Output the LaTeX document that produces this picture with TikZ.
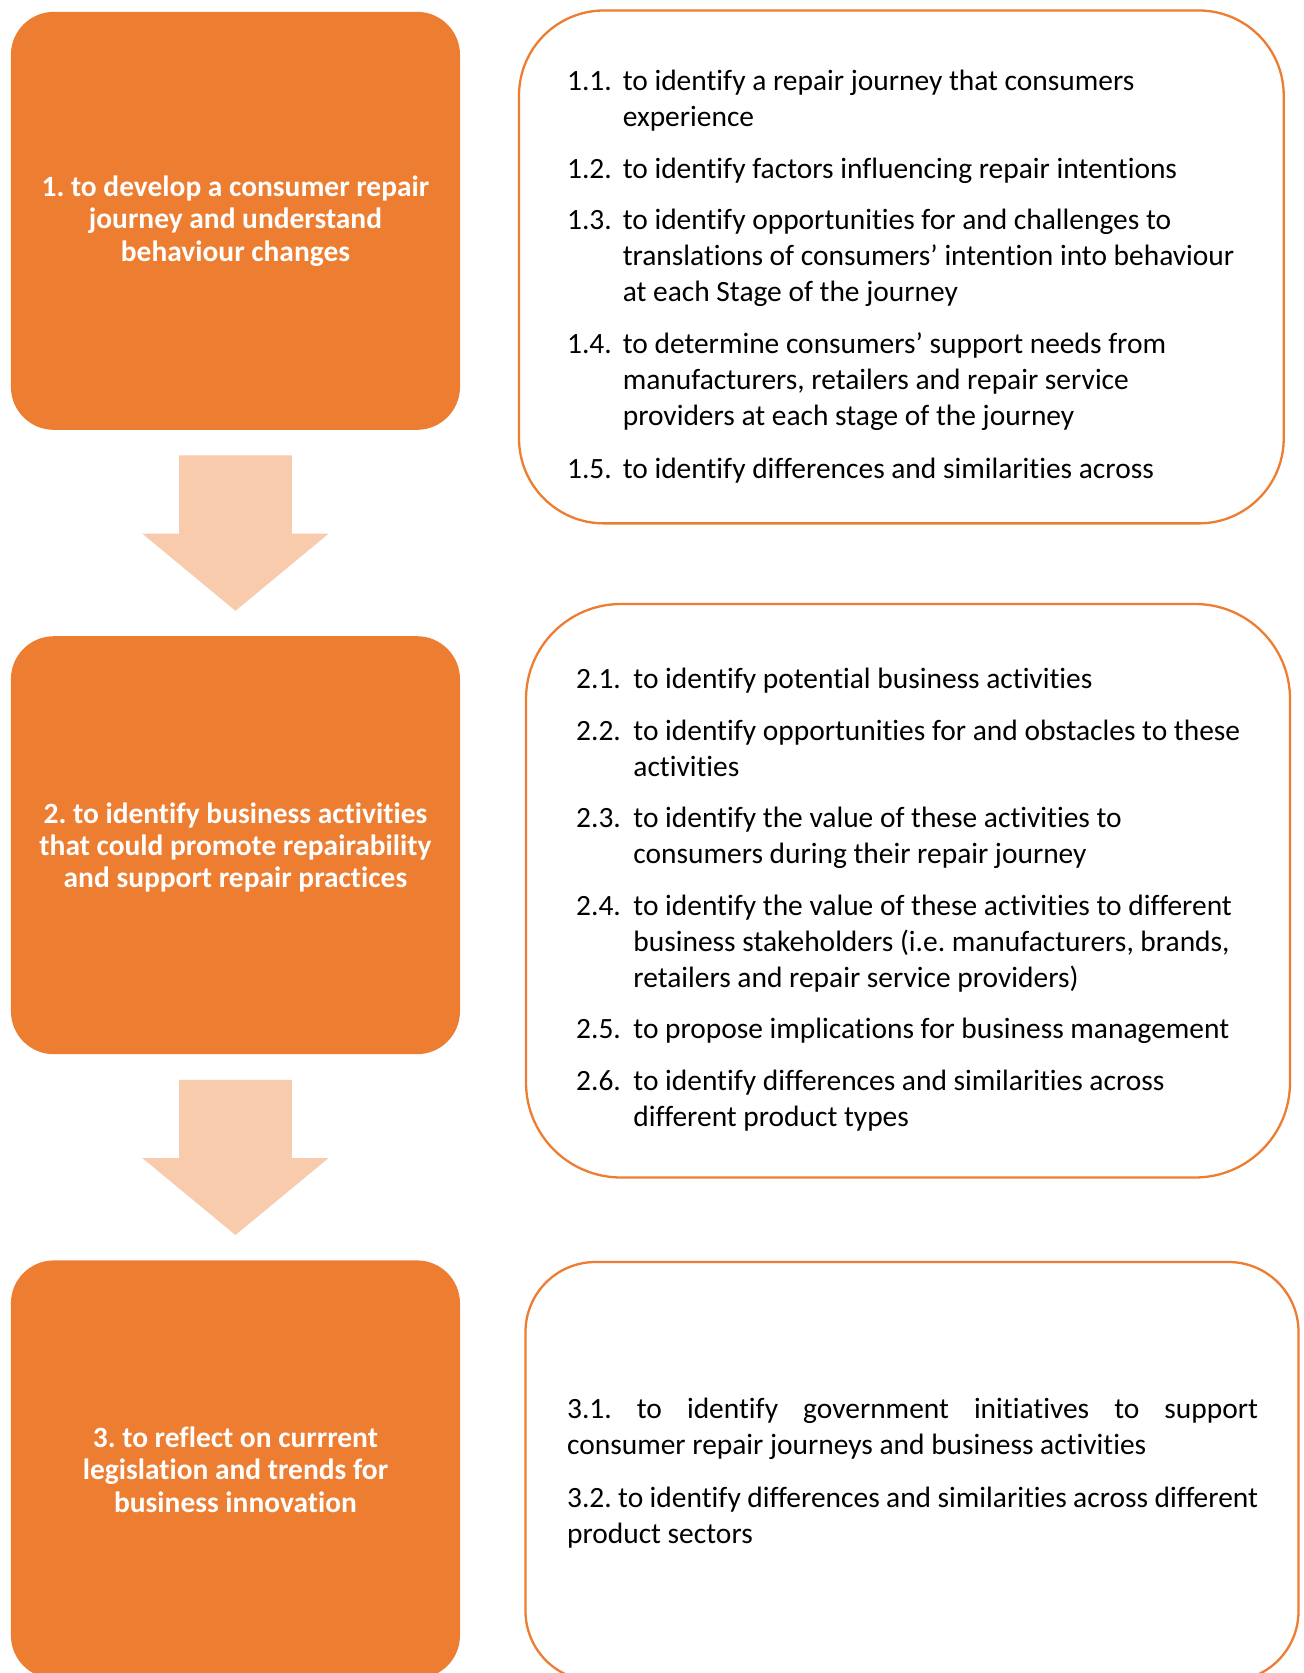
\documentclass[tikz,border=0pt]{standalone}
\usepackage{fontspec}
\setmainfont{Carlito}[Ligatures={TeX,NoCommon}]
\usetikzlibrary{calc}
\frenchspacing
\definecolor{accent}{HTML}{ED7D31}
\definecolor{peach}{HTML}{F8CBAD}
% lines of one objective, the first line's baseline being the node's baseline
\newcommand\itemlines[1]{\begin{tabular}[t]{@{}l@{}}#1\end{tabular}}
\tikzset{
  aimbox/.style={rectangle, rounded corners=21.5pt, fill=accent, inner sep=0pt,
    minimum width=224.55pt, minimum height=209pt, text=white, align=center,
    font=\fontsize{14.72}{16.2}\selectfont\bfseries},
  listbox/.style={rectangle, draw=accent, line width=1.15pt, fill=white, inner sep=0pt},
  itemno/.style={anchor=base west, inner sep=0pt, font=\fontsize{14.72}{17.9}\selectfont},
  itemtext/.style={anchor=base west, inner sep=0pt, font=\fontsize{14.72}{17.9}\selectfont},
  flowarrow/.style={fill=peach, draw=none},
}
\begin{document}
\begin{tikzpicture}[x=0.5pt, y=-0.5pt]
\useasboundingbox (0,0) rectangle (1304,1673);
\fill[white] (0,0) rectangle (1304,1673);
\clip (0,0) rectangle (1304,1673);

% aims (left column)
\node[aimbox] (b1) at (235.45,220.85) {1. to develop a consumer repair\\ journey and understand\\ behaviour changes};
\node[aimbox, text depth=0pt] (b2) at (235.45,845.2) {2. to identify business activities\\ that could promote repairability\\ and support repair practices};
\node[aimbox] (b3) at (235.45,1469.4) {3. to reflect on currrent\\ legislation and trends for\\ business innovation};

% objectives (right column)
\node[listbox, rounded corners=42.5pt, minimum width=382.35pt, minimum height=256.45pt] (r1) at (901.35,266.95) {};
\node[listbox, rounded corners=47.5pt, minimum width=382pt, minimum height=286.75pt] (r2) at (908,890.75) {};
\node[listbox, rounded corners=35pt, minimum width=386.5pt, minimum height=209.5pt] (r3) at (912,1471.5) {};

% block arrows between the aims
\foreach \a/\b in {b1/b2, b2/b3}{
  \fill[flowarrow] ($(\a.south)+(-56.3,25.2)$) -- ($(\a.south)+(-56.3,103.5)$)
    -- ($(\a.south)+(-93,103.5)$) -- ($(\b.north)+(0,-25)$)
    -- ($(\a.south)+(93,103.5)$) -- ($(\a.south)+(56.3,103.5)$)
    -- ($(\a.south)+(56.3,25.2)$) -- cycle;
}

% objectives of aim 1
\node[itemno] (n11) at (566.7,90.8) {1.1.};
\node[itemtext] (t11) at (622.4,90.8) {\itemlines{to identify a repair journey that consumers\\ experience}};
\node[itemno] (n12) at (566.7,178.1) {1.2.};
\node[itemtext] (t12) at (622.4,178.1) {\itemlines{to identify factors influencing repair intentions}};
\node[itemno] (n13) at (566.7,229.8) {1.3.};
\node[itemtext] (t13) at (622.4,229.8) {\itemlines{to identify opportunities for and challenges to\\ translations of consumers’ intention into behaviour\\ at each Stage of the journey}};
\node[itemno] (n14) at (566.7,353.9) {1.4.};
\node[itemtext] (t14) at (622.4,353.9) {\itemlines{to determine consumers’ support needs from\\ manufacturers, retailers and repair service\\ providers at each stage of the journey}};
\node[itemno] (n15) at (566.7,478.1) {1.5.};
\node[itemtext] (t15) at (622.4,478.1) {\itemlines{to identify differences and similarities across}};

% objectives of aim 2
\node[itemno] (n21) at (575.8,688.4) {2.1.};
\node[itemtext] (t21) at (633,688.4) {\itemlines{to identify potential business activities}};
\node[itemno] (n22) at (575.8,740.2) {2.2.};
\node[itemtext] (t22) at (633,740.2) {\itemlines{to identify opportunities for and obstacles to these\\ activities}};
\node[itemno] (n23) at (575.8,827.8) {2.3.};
\node[itemtext] (t23) at (633,827.8) {\itemlines{to identify the value of these activities to\\ consumers during their repair journey}};
\node[itemno] (n24) at (575.8,915.4) {2.4.};
\node[itemtext] (t24) at (633,915.4) {\itemlines{to identify the value of these activities to different\\ business stakeholders (i.e. manufacturers, brands,\\ retailers and repair service providers)}};
\node[itemno] (n25) at (575.8,1038.8) {2.5.};
\node[itemtext] (t25) at (633,1038.8) {\itemlines{to propose implications for business management}};
\node[itemno] (n26) at (575.8,1090.6) {2.6.};
\node[itemtext] (t26) at (633,1090.6) {\itemlines{to identify differences and similarities across\\ different product types}};

% objectives of aim 3
\node[itemtext] (t31) at (566.7,1418.8) {\itemlines{\makebox[345.5pt][s]{3.1. to identify government initiatives to support}\\ consumer repair journeys and business activities}};
\node[itemtext] (t32) at (566.7,1507.2) {\itemlines{\makebox[345.5pt][s]{3.2. to identify differences and similarities across different}\\ product sectors}};
\end{tikzpicture}
\end{document}
